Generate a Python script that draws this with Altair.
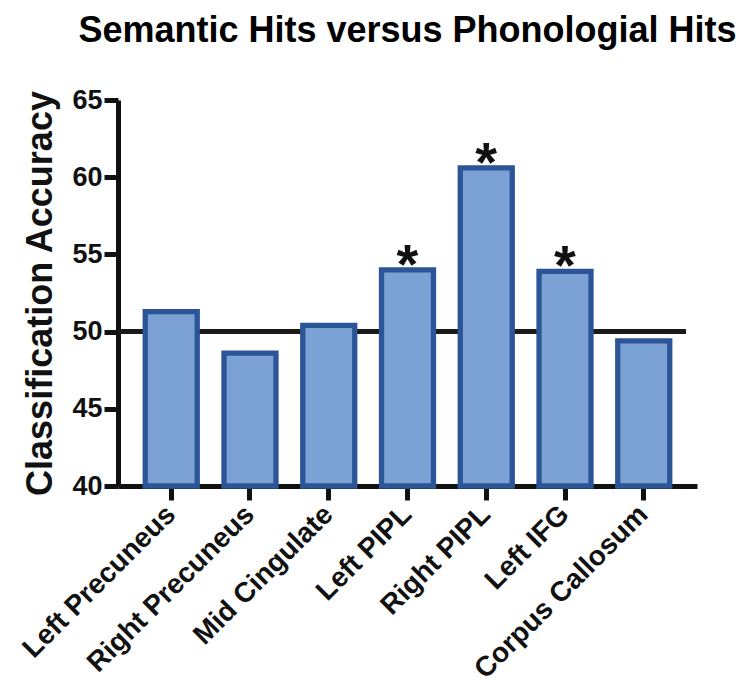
import altair as alt
import pandas as pd

# Classification accuracy per brain region
regions = ["Left Precuneus", "Right Precuneus", "Mid Cingulate", "Left PIPL",
           "Right PIPL", "Left IFG", "Corpus Callosum"]
accuracy = [51.3, 48.6, 50.4, 54.0, 60.6, 53.9, 49.4]
significant = [False, False, False, True, True, True, False]
chance_level = [50]
y_ticks = [40, 45, 50, 55, 60, 65]

df = pd.DataFrame({"region": regions, "accuracy": accuracy, "sig": significant})
chance = pd.DataFrame({"chance": chance_level})

FONT = "Liberation Sans"

x_enc = alt.X(
    "region:N",
    sort=regions,
    title=None,
    scale=alt.Scale(paddingInner=0.34, paddingOuter=0.346),
    axis=alt.Axis(labelAngle=-45, labelAlign="right", labelBaseline="middle",
                  labelFontSize=28, labelPadding=10, labelLimit=0),
)
y_scale = alt.Scale(domain=[40, 65], nice=False, zero=False)

rule = alt.Chart(chance).mark_rule(color="#1a1a1a", strokeWidth=5).encode(
    y=alt.Y("chance:Q", scale=y_scale),
    x=alt.value(0),
    x2=alt.value(568),
)

bars = alt.Chart(df).mark_bar(
    fill="#7CA1D5", stroke="#2B5597", strokeWidth=5.3
).encode(
    x=x_enc,
    y=alt.Y("accuracy:Q", scale=y_scale, title="Classification Accuracy",
            axis=alt.Axis(values=y_ticks, labelFontSize=27, labelPadding=2)),
    y2=alt.datum(40),
)

stars = alt.Chart(df).transform_filter(alt.datum.sig).mark_text(
    text="*", font=FONT, fontWeight="bold", fontSize=56, color="#111111",
    baseline="alphabetic", dy=13
).encode(
    x=alt.X("region:N", sort=regions),
    y=alt.Y("accuracy:Q", scale=y_scale),
)

chart = alt.layer(rule, bars, stars).properties(
    width=579,
    height=386,
    title=alt.Title("Semantic Hits versus Phonologial Hits", fontSize=36,
                    font=FONT, fontWeight="bold", color="black",
                    anchor="middle", offset=36),
    autosize=alt.AutoSizeParams(type="none"),
    padding={"left": 118, "top": 100, "right": 45, "bottom": 204},
).configure_view(stroke=None).configure_axis(
    grid=False,
    domainColor="#111111",
    domainWidth=5,
    tickColor="#111111",
    tickWidth=5,
    tickSize=14,
    labelFont=FONT,
    labelFontWeight="bold",
    labelColor="#111111",
    titleFont=FONT,
    titleFontWeight="bold",
    titleFontSize=36,
    titleColor="#111111",
    titlePadding=12,
)

chart.save("out.html", embed_options={"renderer": "svg", "actions": False})
